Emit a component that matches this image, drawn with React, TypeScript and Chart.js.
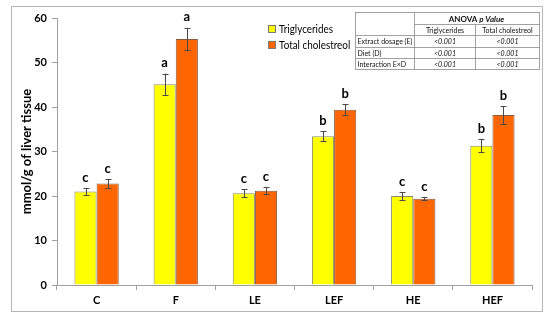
import React, { useEffect, useRef } from "react";
import { Chart, registerables } from "chart.js";

Chart.register(...registerables);

const categories = ["C", "F", "LE", "LEF", "HE", "HEF"];
const triglycerides = [21.0, 45.1, 20.6, 33.4, 20.0, 31.3];
const triglyceridesErr = [0.8, 2.4, 0.9, 1.1, 0.9, 1.5];
const cholesterol = [22.8, 55.3, 21.2, 39.4, 19.4, 38.2];
const cholesterolErr = [1.0, 2.5, 0.8, 1.2, 0.4, 2.0];
const triglyceridesLetters = ["c", "a", "c", "b", "c", "b"];
const cholesterolLetters = ["c", "a", "c", "b", "c", "b"];
const yTicks = [0, 10, 20, 30, 40, 50, 60];

const anovaTitle = "ANOVA";
const anovaColumns = ["Triglycerides", "Total cholestreol"];
const anovaRows = ["Extract dosage (E)", "Diet (D)", "Interaction E×D"];
const anovaTrig = ["<0.001", "<0.001", "<0.001"];
const anovaChol = ["<0.001", "<0.001", "<0.001"];

const FONT = "Lato, 'Open Sans', sans-serif";

const errors = [triglyceridesErr, cholesterolErr];
const letters = [triglyceridesLetters, cholesterolLetters];

const decorPlugin = {
  id: "decor",
  beforeDraw(chart: any) {
    const { ctx, width, height } = chart;
    ctx.save();
    ctx.fillStyle = "#ffffff";
    ctx.fillRect(0, 0, width, height);
    ctx.restore();
  },
  afterDatasetsDraw(chart: any) {
    const { ctx } = chart;
    const yScale = chart.scales.y;
    ctx.save();
    chart.data.datasets.forEach((ds: any, i: number) => {
      const meta = chart.getDatasetMeta(i);
      meta.data.forEach((el: any, j: number) => {
        const v = ds.data[j];
        const e = errors[i][j];
        const x = Math.round(el.x) + 0.5;
        const yt = yScale.getPixelForValue(v + e);
        const yb = yScale.getPixelForValue(v - e);
        ctx.strokeStyle = "#4a4a4a";
        ctx.lineWidth = 1;
        ctx.beginPath();
        ctx.moveTo(x, yt);
        ctx.lineTo(x, yb);
        ctx.moveTo(x - 3, Math.round(yt) + 0.5);
        ctx.lineTo(x + 3, Math.round(yt) + 0.5);
        ctx.moveTo(x - 3, Math.round(yb) + 0.5);
        ctx.lineTo(x + 3, Math.round(yb) + 0.5);
        ctx.stroke();
        ctx.fillStyle = "#000";
        ctx.font = `bold 13px ${FONT}`;
        ctx.textAlign = "center";
        ctx.textBaseline = "bottom";
        ctx.fillText(letters[i][j], el.x, yt - 4);
      });
    });
    ctx.restore();
  },
  afterDraw(chart: any) {
    const { ctx } = chart;
    ctx.save();
    // outer border
    ctx.strokeStyle = "#b5b5b5";
    ctx.lineWidth = 1;
    ctx.strokeRect(11.5, 6.5, 531, 305);

    // y title
    ctx.save();
    ctx.translate(27, (chart.chartArea.top + chart.chartArea.bottom) / 2);
    ctx.rotate(-Math.PI / 2);
    ctx.fillStyle = "#000";
    ctx.font = `bold 13px ${FONT}`;
    ctx.textAlign = "center";
    ctx.textBaseline = "middle";
    ctx.fillText("mmol/g of liver tissue", 0, 0);
    ctx.restore();

    // legend
    const lx = 268;
    const ly = [29, 45];
    chart.data.datasets.forEach((ds: any, i: number) => {
      ctx.fillStyle = ds.backgroundColor;
      ctx.fillRect(lx, ly[i] - 4, 7, 7);
      ctx.strokeStyle = "#7a7a7a";
      ctx.strokeRect(lx + 0.5, ly[i] - 3.5, 7, 7);
      ctx.save();
      ctx.translate(lx + 11, ly[i]);
      ctx.scale(0.86, 1);
      ctx.fillStyle = "#000";
      ctx.font = `11.5px ${FONT}`;
      ctx.textAlign = "left";
      ctx.textBaseline = "middle";
      ctx.fillText(ds.label, 0, 0);
      ctx.restore();
    });

    // ANOVA table
    const X = [355.5, 414.5, 475.5, 539.5];
    const Y = [12.5, 24.5, 35.5, 47.5, 58.5, 69.5];
    ctx.strokeStyle = "#8a8a8a";
    ctx.lineWidth = 0.8;
    ctx.strokeRect(X[0], Y[0], X[3] - X[0], Y[5] - Y[0]);
    ctx.beginPath();
    ctx.moveTo(X[1], Y[0]);
    ctx.lineTo(X[1], Y[5]);
    ctx.moveTo(X[2], Y[1]);
    ctx.lineTo(X[2], Y[5]);
    ctx.moveTo(X[1], Y[1]);
    ctx.lineTo(X[3], Y[1]);
    for (let r = 2; r <= 4; r++) {
      ctx.moveTo(X[0], Y[r]);
      ctx.lineTo(X[3], Y[r]);
    }
    ctx.stroke();

    ctx.fillStyle = "#111";
    ctx.textBaseline = "middle";
    // header
    const hx = (X[1] + X[3]) / 2;
    const hy = (Y[0] + Y[1]) / 2 + 0.5;
    const t1 = anovaTitle + " ";
    ctx.font = `bold 8px ${FONT}`;
    const w1 = ctx.measureText(t1).width;
    ctx.font = `bold italic 8px ${FONT}`;
    const w2 = ctx.measureText("p").width;
    ctx.font = `bold 8px ${FONT}`;
    const t3 = " Value";
    const w3 = ctx.measureText(t3).width;
    const sx = hx - (w1 + w2 + w3) / 2;
    ctx.textAlign = "left";
    ctx.fillText(t1, sx, hy);
    ctx.font = `bold italic 8px ${FONT}`;
    ctx.fillText("p", sx + w1, hy);
    ctx.fillText(t3, sx + w1 + w2, hy);

    ctx.font = `7px ${FONT}`;
    ctx.textAlign = "center";
    ctx.fillText(anovaColumns[0], (X[1] + X[2]) / 2, (Y[1] + Y[2]) / 2 + 0.5);
    ctx.fillText(anovaColumns[1], (X[2] + X[3]) / 2, (Y[1] + Y[2]) / 2 + 0.5);
    anovaRows.forEach((label, r) => {
      const cy = (Y[r + 2] + Y[r + 3]) / 2 + 0.5;
      ctx.font = `7px ${FONT}`;
      ctx.textAlign = "left";
      ctx.fillText(label, X[0] + 2, cy);
      ctx.font = `italic 7px ${FONT}`;
      ctx.textAlign = "center";
      ctx.fillText(anovaTrig[r], (X[1] + X[2]) / 2, cy);
      ctx.fillText(anovaChol[r], (X[2] + X[3]) / 2, cy);
    });
    ctx.restore();
  },
};

export default function App() {
  const ref = useRef<HTMLCanvasElement>(null);
  useEffect(() => {
    if (!ref.current) return;
    const chart = new Chart(ref.current, {
      type: "bar",
      data: {
        labels: categories,
        datasets: [
          {
            label: "Triglycerides",
            data: triglycerides,
            backgroundColor: "#ffff00",
            borderColor: "#8a8a6a",
            borderWidth: 1,
            categoryPercentage: 0.56,
            barPercentage: 1,
          },
          {
            label: "Total cholestreol",
            data: cholesterol,
            backgroundColor: "#ff6600",
            borderColor: "#8a5a3a",
            borderWidth: 1,
            categoryPercentage: 0.56,
            barPercentage: 1,
          },
        ],
      },
      options: {
        responsive: false,
        animation: false,
        layout: { padding: { left: 0, right: 18, top: 18, bottom: 0 } },
        plugins: {
          legend: { display: false },
          tooltip: { enabled: false },
        },
        scales: {
          x: {
            afterFit: (s: any) => {
              s.height = 35;
            },
            grid: {
              offset: true,
              drawOnChartArea: false,
              drawTicks: true,
              tickLength: 5,
              color: "#a0a0a0",
            },
            border: { color: "#a0a0a0" },
            ticks: {
              color: "#000",
              font: { family: FONT, size: 11, weight: "bold" },
              padding: 4,
            },
          },
          y: {
            min: 0,
            max: 60,
            afterFit: (s: any) => {
              s.width = 57;
            },
            afterBuildTicks: (s: any) => {
              s.ticks = yTicks.map((v) => ({ value: v }));
            },
            grid: {
              drawOnChartArea: false,
              drawTicks: true,
              tickLength: 5,
              color: "#a0a0a0",
            },
            border: { color: "#a0a0a0" },
            ticks: {
              color: "#000",
              font: { family: FONT, size: 11, weight: "bold" },
              padding: 5,
            },
          },
        },
      },
      plugins: [decorPlugin],
    });
    return () => chart.destroy();
  }, []);
  return (
    <div style={{ position: "absolute", left: 0, top: 0, width: 550, height: 320 }}>
      <canvas ref={ref} width={550} height={320} style={{ display: "block" }} />
    </div>
  );
}
